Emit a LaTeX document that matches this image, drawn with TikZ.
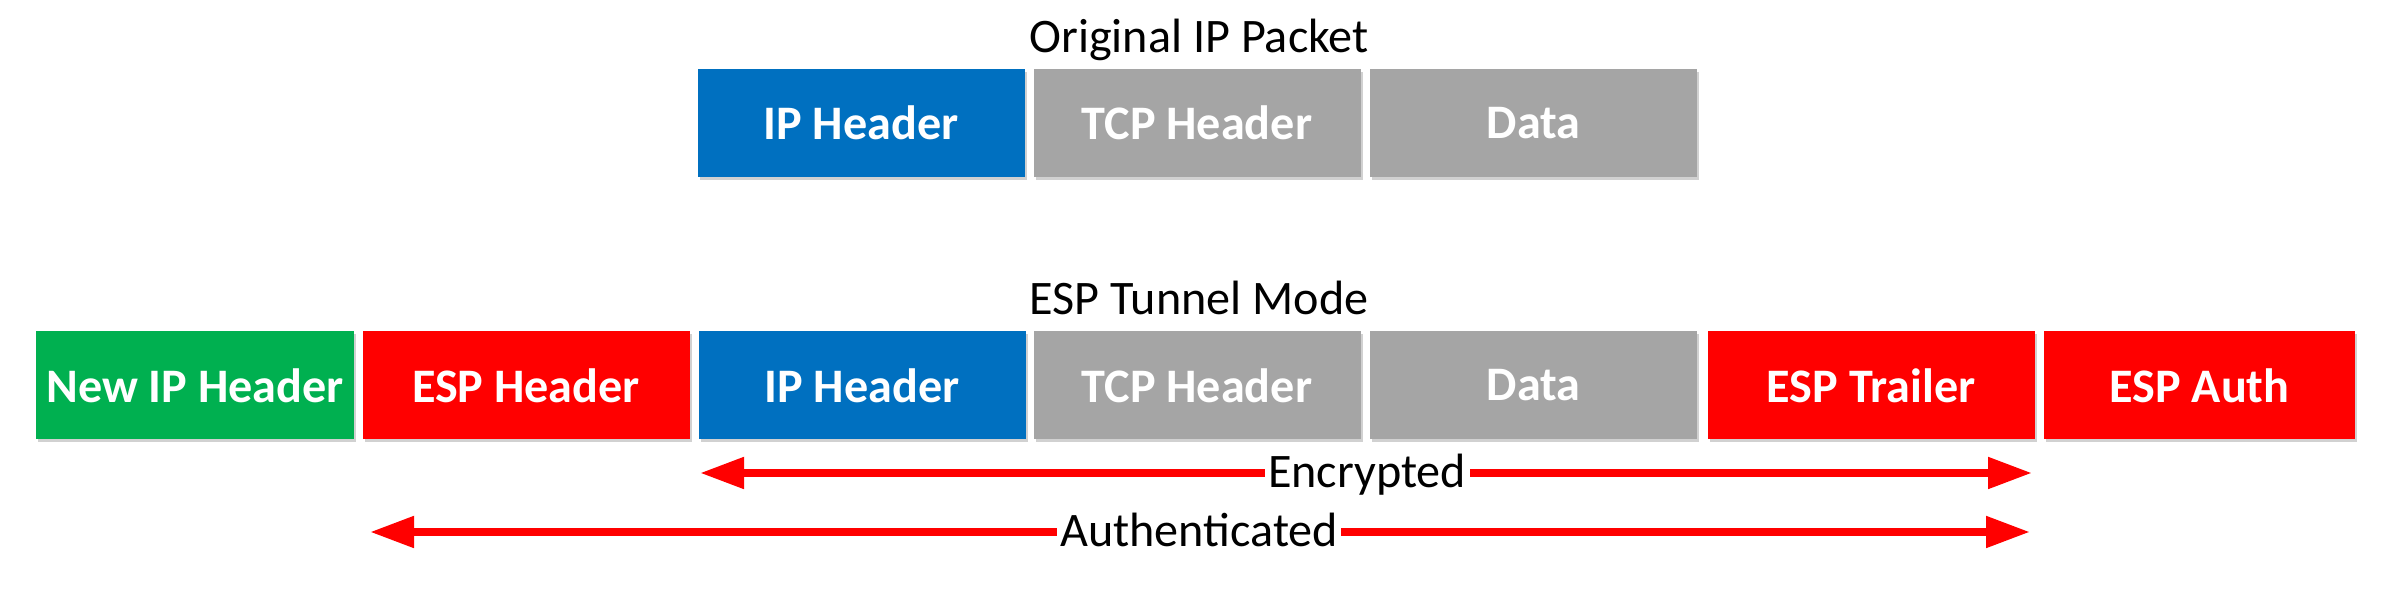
\documentclass[tikz,border=0pt]{standalone}
\usepackage{fontspec}
\setmainfont{Carlito}
\usetikzlibrary{arrows.meta,shadows}
\definecolor{ipblue}{HTML}{0070C0}
\definecolor{pktgray}{HTML}{A5A5A5}
\definecolor{espred}{HTML}{FF0000}
\definecolor{newgreen}{HTML}{00B050}
\tikzset{
  field/.style={minimum width=3.27cm, minimum height=1.08cm, inner sep=0pt,
    text=white, font=\fontsize{13.7}{16}\selectfont\bfseries,
    drop shadow={shadow xshift=0.6pt, shadow yshift=-0.8pt, opacity=0.18, fill=black}},
  caption/.style={anchor=base, font=\fontsize{13.7}{16}\selectfont},
  span/.style={line width=0.08cm, espred,
    {Triangle[length=0.44cm,width=0.30cm]}-{Triangle[length=0.44cm,width=0.30cm]}},
  spanlabel/.style={fill=white, inner xsep=1pt, inner ysep=0pt, anchor=base,
    font=\fontsize{13.7}{16}\selectfont},
}
\begin{document}
\begin{tikzpicture}
\useasboundingbox (0,0) rectangle (23.88,-5.93);
% original packet
\node(orig) at (11.99,-0.53) [caption]{Original IP Packet};
\node(ipa) at (8.61,-1.23) [field, fill=ipblue]{IP Header};
\node(tcpa) at (11.97,-1.23) [field, fill=pktgray]{TCP Header};
\node(dataa) at (15.335,-1.23) [field, fill=pktgray]{Data};

% tunnel mode
\node(tunnel) at (11.99,-3.15) [caption]{ESP Tunnel Mode};
\node(newip) at (1.95,-3.855) [field, fill=newgreen, minimum width=3.18cm]{New IP Header};
\node(esph) at (5.26,-3.855) [field, fill=espred]{ESP Header};
\node(ipb) at (8.62,-3.855) [field, fill=ipblue]{IP Header};
\node(tcpb) at (11.97,-3.855) [field, fill=pktgray]{TCP Header};
\node(datab) at (15.335,-3.855) [field, fill=pktgray]{Data};
\node(trail) at (18.71,-3.855) [field, fill=espred]{ESP Trailer};
\node(auth) at (21.995,-3.855) [field, fill=espred, minimum width=3.11cm]{ESP Auth};

% spans
\coordinate(encl) at (7.00,-4.73);
\coordinate(encr) at (20.32,-4.73);
\coordinate(authl) at (3.70,-5.32);
\coordinate(authr) at (20.30,-5.32);
\draw [span] (encl) -- (encr);
\draw [span] (authl) -- (authr);
\node(enc) at (13.67,-4.88) [spanlabel]{Encrypted};
\node(authd) at (11.99,-5.47) [spanlabel]{Authenticated};
\end{tikzpicture}
\end{document}
